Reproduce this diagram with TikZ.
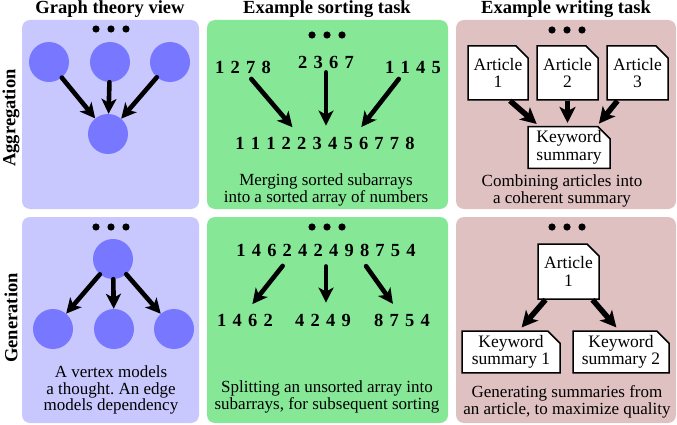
\documentclass[tikz,border=0pt]{standalone}
\usepackage{fontspec}
\setmainfont{Liberation Serif}
\usetikzlibrary{positioning,arrows.meta,shapes.misc}
\definecolor{graphbg}{RGB}{200,200,255}
\definecolor{vtx}{RGB}{119,119,255}
\definecolor{sortbg}{RGB}{134,232,150}
\definecolor{writebg}{RGB}{224,193,193}
\frenchspacing

\tikzset{
  panel/.style={rounded corners=8pt},
  vertex/.style={circle, fill=vtx, minimum size=40pt, inner sep=0pt},
  arr/.style={line width=4.6pt, line cap=round, -{Stealth[length=15pt,width=15pt,inset=4pt]}},
  fatarr/.style={line width=5.5pt, -{Stealth[length=16pt,width=16pt,inset=4pt]}},
  nums/.style={font=\bfseries\fontsize{18.5}{20}\selectfont, inner sep=4pt,
    execute at begin node={\spaceskip=6.2pt\relax}},
  caption/.style={align=center, font=\fontsize{17}{16.5}\selectfont},
  heading/.style={font=\bfseries\fontsize{18.5}{20}\selectfont},
  docbox/.style={chamfered rectangle, chamfered rectangle corners=north east,
    chamfered rectangle xsep=9pt, draw, line width=1.5pt, fill=white,
    align=center, inner ysep=1pt, inner xsep=-4pt, font=\fontsize{17.5}{17.5}\selectfont}
}

\begin{document}
\begin{tikzpicture}[x=1pt,y=-1pt]
  \useasboundingbox (0,0) rectangle (677,425);
  % panels
  \foreach \ya/\yb in {20/209, 217/423}{
    \fill[panel, graphbg] (22,\ya) rectangle (199,\yb);
    \fill[panel, sortbg] (207,\ya) rectangle (448,\yb);
    \fill[panel, writebg] (456,\ya) rectangle (676,\yb);
  }
  % headings
  \node[heading] (h1) at (110,9) {Graph theory view};
  \node[heading] (h2) at (327,9) {Example sorting task};
  \node[heading] (h3) at (566,9) {Example writing task};
  \node[heading, rotate=90] (r1) at (11,118) {Aggregation};
  \node[heading, rotate=90] (r2) at (11,318) {Generation};
  % dots
  \foreach \cx/\cy in {111/29, 327/35, 567/30, 111/227, 327/227, 567/227}
    \foreach \dx in {-15,0,15}
      \fill (\cx+\dx,\cy) circle(3.6pt);

  % aggregation: graph
  \node[vertex] (va1) at (49,62) {};
  \node[vertex] (va2) at (110,62) {};
  \node[vertex] (va3) at (170,62) {};
  \node[vertex] (va4) at (108,134) {};
  \foreach \v in {va1,va2,va3}
    \draw[arr] (\v) -- (va4);

  % aggregation: sorting
  \node[nums] (s1) at (243,67) {1 2 7 8};
  \node[nums] (s2) at (326,62) {2 3 6 7};
  \node[nums] (s3) at (413,67) {1 1 4 5};
  \node[nums] (sres) at (325,143) {1 1 1 2 2 3 4 5 6 7 7 8};
  \draw[arr, shorten <=2pt, shorten >=7pt] ([xshift=7pt]s1.south) -- ([xshift=-28pt]sres.north);
  \draw[arr, shorten >=7pt] (s2.south) -- (s2.south |- sres.north);
  \draw[arr, shorten <=2pt, shorten >=7pt] ([xshift=-13pt]s3.south) -- ([xshift=32pt]sres.north);
  \node[caption] (c2) at (326,190) {Merging sorted subarrays\\into a sorted array of numbers};

  % aggregation: writing
  \node[docbox, minimum width=60pt, minimum height=54pt] (art1) at (498,73) {Article\\1};
  \node[docbox, minimum width=61pt, minimum height=54pt] (art2) at (567.5,73) {Article\\2};
  \node[docbox, minimum width=61pt, minimum height=54pt] (art3) at (637.5,73) {Article\\3};
  \node[docbox, minimum width=82pt, minimum height=39pt] (kw) at (569,147.5) {Keyword\\summary};
  \draw[fatarr, shorten >=3pt] ([xshift=12pt]art1.south) -- ([xshift=-30pt]kw.north);
  \draw[fatarr, shorten >=3pt] (art2.south) -- (art2.south |- kw.north);
  \draw[fatarr, shorten >=3pt] ([xshift=-20pt]art3.south) -- ([xshift=28pt]kw.north);
  \node[caption] (c3) at (562,191) {Combining articles into\\a coherent summary};

  % generation: graph
  \node[vertex] (vg0) at (113,259) {};
  \node[vertex] (vg1) at (53,329) {};
  \node[vertex] (vg2) at (114,329) {};
  \node[vertex] (vg3) at (174,329) {};
  \foreach \v in {vg1,vg2,vg3}
    \draw[arr] (vg0) -- (\v);
  \node[caption] (c1) at (111,390) {A vertex models\\a thought. An edge\\models dependency};

  % generation: sorting
  \node[nums] (g0) at (326,250) {1 4 6 2 4 2 4 9 8 7 5 4};
  \node[nums] (g1) at (245,320) {1 4 6 2};
  \node[nums] (g2) at (323,320) {4 2 4 9};
  \node[nums] (g3) at (402,320) {8 7 5 4};
  \draw[arr, shorten <=7pt, shorten >=7pt] ([xshift=-39pt]g0.south) -- ([xshift=3pt]g1.north);
  \draw[arr, shorten <=6pt, shorten >=7pt] (g0.south) -- (g0.south |- g2.north);
  \draw[arr, shorten <=7pt, shorten >=7pt] ([xshift=36pt]g0.south) -- ([xshift=-5pt]g3.north);
  \node[caption] (c5) at (327,397) {Splitting an unsorted array into\\subarrays, for subsequent sorting};

  % generation: writing
  \node[docbox, minimum width=61pt, minimum height=55pt] (art) at (568.5,271.5) {Article\\1};
  \node[docbox, minimum width=98pt, minimum height=38pt] (ks1) at (511,352) {Keyword\\summary 1};
  \node[docbox, minimum width=96pt, minimum height=38pt] (ks2) at (621,352) {Keyword\\summary 2};
  \draw[fatarr, shorten >=4pt] ([xshift=-23pt]art.south) -- ([xshift=8pt]ks1.north);
  \draw[fatarr, shorten >=4pt] ([xshift=24pt]art.south) -- ([xshift=-2pt]ks2.north);
  \node[caption] (c6) at (567,402) {Generating summaries from\\an article, to maximize quality};
\end{tikzpicture}
\end{document}
